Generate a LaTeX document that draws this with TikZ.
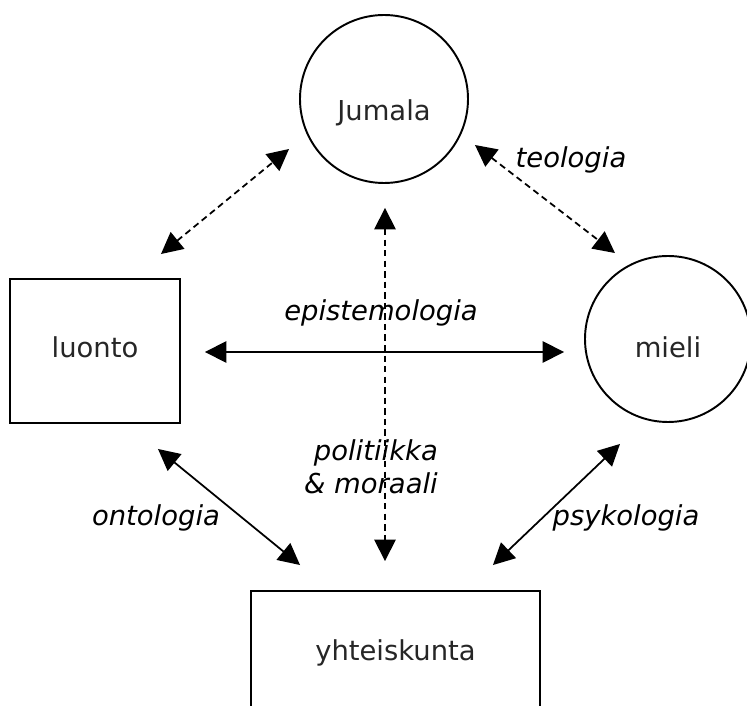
\documentclass[tikz,border=0pt]{standalone}
\usepackage{fontspec}
\setmainfont{DejaVu Sans}
\usetikzlibrary{arrows.meta,shapes,positioning}

\begin{document}
\begin{tikzpicture}[>={Triangle[length=4.3mm,width=4.3mm]},
                    every node/.style={align=center, font=\fontsize{15.6}{18.8}\selectfont},
                    concept/.style={draw, line width=1.1pt, text=black!85},
                    link/.style={<->, line width=1pt},
                    dlink/.style={link, dash pattern=on 3.6pt off 2.4pt},
                    topic/.style={font=\fontsize{15.6}{18.8}\selectfont\itshape}]
  \useasboundingbox (0,0) rectangle (14.94,-14.12);

  % Define nodes
  \node[concept, circle, minimum size=3.36cm, text height=24pt, text depth=0pt] (jumala) at (7.68,-1.98) {Jumala};
  \node[concept, circle, minimum size=3.32cm, text height=20.5pt, text depth=0pt] (mieli) at (13.36,-6.78) {mieli};
  \node[concept, rectangle, minimum width=3.4cm, minimum height=2.88cm, text depth=4.5pt] (luonto) at (1.90,-7.02) {luonto};
  \node[concept, rectangle, minimum width=5.78cm, minimum height=2.48cm] (yhteis) at (7.91,-13.06) {yhteiskunta};

  % Labels
  \node[topic] (teologia) at (11.42,-3.20) {teologia};
  \node[topic] (episte) at (7.62,-6.26) {epistemologia};
  \node[topic, align=right] (politiikka) at (7.42,-9.33) {politiikka\\\& moraali};
  \node[topic] (ontologia) at (3.12,-10.36) {ontologia};
  \node[topic] (psykologia) at (12.52,-10.36) {psykologia};

  % Define paths
  \draw[dlink] ([shift={(-0.40,0.48)}]luonto.north east) -- ([shift={(-0.20,-1.00)}]jumala.west);
  \draw[dlink] ([shift={(0.12,-0.92)}]jumala.east) -- ([shift={(-1.06,0.04)}]mieli.north);
  \draw[dlink] ([shift={(0.02,-0.48)}]jumala.south) -- ([shift={(-0.21,0.58)}]yhteis.north);
  \draw[link] ([shift={(0.48,-0.02)}]luonto.east) -- ([shift={(-0.40,-0.26)}]mieli.west);
  \draw[link] ([shift={(-0.46,-0.50)}]luonto.south east) -- ([shift={(1.00,0.50)}]yhteis.north west);
  \draw[link] ([shift={(-0.96,-0.42)}]mieli.south) -- ([shift={(-0.96,0.50)}]yhteis.north east);

\end{tikzpicture}
\end{document}
